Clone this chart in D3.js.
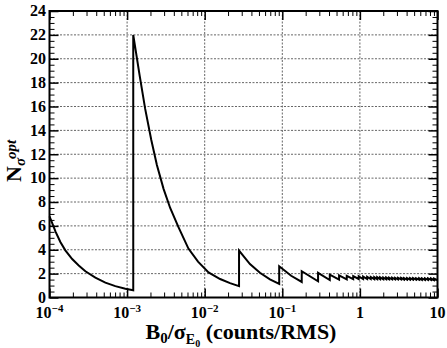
<!DOCTYPE html>
<html>
<head>
<meta charset="utf-8">
<script src="https://cdn.jsdelivr.net/npm/d3@7"></script>
<style>
body { margin: 0; background: #fff; }
text { font-family: "Liberation Serif", "Times New Roman", serif; font-weight: bold; fill: #000; }
</style>
</head>
<body>
<div id="chart"></div>
<script>
// values: [B0/sigma, N_sigma^opt]
var branch1 = [[1.0e-4, 6.8], [1.08e-4, 6.25], [1.2e-4, 5.5], [1.38e-4, 4.65], [1.6e-4, 3.95],
    [1.96e-4, 3.22], [2.38e-4, 2.68], [2.9e-4, 2.2], [3.9e-4, 1.66], [5.25e-4, 1.25],
    [7.05e-4, 0.95], [9.5e-4, 0.74], [1.2e-3, 0.6]];
var branch2 = [[1.2e-3, 22.0], [1.45e-3, 18.6], [1.71e-3, 15.8], [2.05e-3, 13.2], [2.42e-3, 11.1],
    [2.95e-3, 9.1], [3.59e-3, 7.5], [4.59e-3, 5.9], [6.17e-3, 4.1], [8.2e-3, 3.0],
    [1.12e-2, 2.1], [1.58e-2, 1.55], [2.12e-2, 1.2], [2.77e-2, 0.95]];
var branch3 = [[0.0277, 3.93], [0.0383, 2.8], [0.0515, 2.07], [0.0693, 1.52], [0.0912, 1.14]];
var branch4 = [[0.0912, 2.62], [0.13, 1.82], [0.178, 1.3]];

// the small teeth: edges, value at start of each tooth, value at its end
var toothEdges = [0.178, 0.289, 0.409, 0.539, 0.677, 0.82, 0.965, 1.10, 1.24, 1.38, 1.53, 1.67,
    1.82, 2.0, 2.18, 2.38, 2.6, 2.84, 3.1, 3.4, 3.7, 4.05, 4.43, 4.84, 5.3, 5.8, 6.3, 6.9,
    7.55, 8.25, 9.0, 10];
var toothTop = [2.2, 2.06, 1.92, 1.86, 1.82, 1.79, 1.77, 1.75, 1.73, 1.72, 1.71, 1.70, 1.69,
    1.68, 1.67, 1.66, 1.66, 1.65, 1.64, 1.64, 1.63, 1.63, 1.62, 1.62, 1.61, 1.61, 1.60, 1.60,
    1.60, 1.59, 1.59];
var toothBottom = [1.36, 1.46, 1.50, 1.52, 1.54, 1.55, 1.55, 1.55, 1.55, 1.54, 1.54, 1.54, 1.53,
    1.53, 1.53, 1.52, 1.52, 1.52, 1.51, 1.51, 1.50, 1.50, 1.50, 1.49, 1.49, 1.48, 1.48, 1.47,
    1.47, 1.46, 1.46];

var xMajor = [1e-4, 1e-3, 1e-2, 1e-1, 1, 10];
var xLabelBase = ["10", "10", "10", "10", "1", "10"];
var xLabelExp = ["\u22124", "\u22123", "\u22122", "\u22121", "", ""];
var yMajor = [0, 2, 4, 6, 8, 10, 12, 14, 16, 18, 20, 22, 24];
var yGrid = [2, 4, 6, 8, 10, 12, 14, 16, 18, 20, 22];
var xGrid = [1e-3, 1e-2, 1e-1, 1];

var margin = {top: 11, right: 9.5, bottom: 50.5, left: 49.5};
var width = 447 - margin.left - margin.right;
var height = 348 - margin.top - margin.bottom;

var svg = d3.select("#chart")
    .append("svg")
    .attr("width", 447)
    .attr("height", 348);

var g = svg.append("g")
    .attr("transform", "translate(" + margin.left + "," + margin.top + ")");

var x = d3.scaleLog()
    .domain([1e-4, 10])
    .range([0, width]);

var y = d3.scaleLinear()
    .domain([0, 24])
    .range([height, 0]);

// minor ticks
var xMinor = [];
xMajor.slice(0, -1).forEach(function(d) {
    for (var k = 2; k <= 9; k++) xMinor.push(k * d);
});
var yMinor = d3.range(0.5, 24, 0.5).filter(function(v) { return v % 2 !== 0; });

// grid
g.selectAll(".hgrid")
    .data(yGrid)
    .enter()
    .append("line")
    .attr("x1", 0)
    .attr("x2", width)
    .attr("y1", function(d) { return y(d); })
    .attr("y2", function(d) { return y(d); })
    .attr("stroke", "#666")
    .attr("stroke-width", 1)
    .attr("stroke-dasharray", "2,1.5");

g.selectAll(".vgrid")
    .data(xGrid)
    .enter()
    .append("line")
    .attr("x1", function(d) { return x(d); })
    .attr("x2", function(d) { return x(d); })
    .attr("y1", 0)
    .attr("y2", height)
    .attr("stroke", "#666")
    .attr("stroke-width", 1)
    .attr("stroke-dasharray", "2,1.5");

// curve
var points = [].concat(branch1, branch2, branch3, branch4);
toothTop.forEach(function(t, i) {
    points.push([toothEdges[i], t]);
    points.push([toothEdges[i + 1], toothBottom[i]]);
});

var line = d3.line()
    .x(function(d) { return x(d[0]); })
    .y(function(d) { return y(d[1]); });

g.append("path")
    .datum(points)
    .attr("d", line)
    .attr("fill", "none")
    .attr("stroke", "#000")
    .attr("stroke-width", 2);

// ticks on all four sides
function ticks(axis, values, size, tr) {
    g.append("g")
        .attr("transform", tr)
        .call(axis.tickValues(values).tickSize(size).tickFormat(""))
        .call(function(s) {
            s.select(".domain").remove();
            s.selectAll("line").attr("stroke", "#000").attr("stroke-width", size < -6 ? 1.5 : 1);
        });
}
ticks(d3.axisBottom(x), xMajor, -9, "translate(0," + height + ")");
ticks(d3.axisBottom(x), xMinor, -5, "translate(0," + height + ")");
ticks(d3.axisTop(x), xMajor, -9, "translate(0,0)");
ticks(d3.axisTop(x), xMinor, -5, "translate(0,0)");
ticks(d3.axisLeft(y), yMajor, -9, "translate(0,0)");
ticks(d3.axisLeft(y), yMinor, -5, "translate(0,0)");
ticks(d3.axisRight(y), yMajor, -9, "translate(" + width + ",0)");
ticks(d3.axisRight(y), yMinor, -5, "translate(" + width + ",0)");

// frame
g.append("rect")
    .attr("x", 0)
    .attr("y", 0)
    .attr("width", width)
    .attr("height", height)
    .attr("fill", "none")
    .attr("stroke", "#000")
    .attr("stroke-width", 2);

// tick labels
g.selectAll(".ylab")
    .data(yMajor)
    .enter()
    .append("text")
    .attr("x", -3.5)
    .attr("y", function(d) { return y(d); })
    .attr("dy", "0.33em")
    .attr("text-anchor", "end")
    .attr("font-size", 16)
    .text(function(d) { return d; });

var xl = g.selectAll(".xlab")
    .data(xMajor)
    .enter()
    .append("text")
    .attr("x", function(d) { return x(d); })
    .attr("y", height + 20.5)
    .attr("text-anchor", "middle")
    .attr("font-size", 16);
xl.append("tspan").text(function(d, i) { return xLabelBase[i]; });
xl.append("tspan")
    .attr("font-size", 11)
    .attr("dy", -6)
    .text(function(d, i) { return xLabelExp[i]; });

// axis titles
var xt = g.append("text")
    .attr("x", 191.5)
    .attr("y", 327.5)
    .attr("text-anchor", "middle")
    .attr("font-size", 22);
xt.append("tspan").text("B");
xt.append("tspan").attr("font-size", 15).attr("dy", 4).text("0");
xt.append("tspan").attr("dy", -4).text("/\u03c3");
xt.append("tspan").attr("font-size", 14).attr("dy", 5).text("E");
xt.append("tspan").attr("font-size", 10).attr("dy", 3).text("0");
xt.append("tspan").attr("dy", -8).text(" (counts/RMS)");

var yt = g.append("text")
    .attr("transform", "translate(-28.5,171) rotate(-90)")
    .attr("text-anchor", "start")
    .attr("font-size", 22);
yt.append("tspan").text("N");
yt.append("tspan").attr("font-size", 15).attr("font-style", "italic").attr("dy", 4).text("\u03c3");
yt.append("tspan").attr("font-size", 15).attr("font-style", "italic").attr("dy", -9).attr("dx", -1).text("opt");
</script>
</body>
</html>
